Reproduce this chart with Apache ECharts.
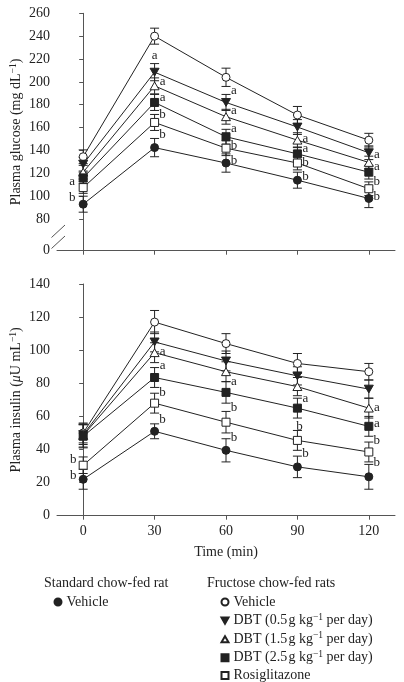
<!DOCTYPE html>
<html><head><meta charset="utf-8">
<script src="https://cdn.jsdelivr.net/npm/echarts@6/dist/echarts.min.js"></script>
<style>html,body{margin:0;padding:0;background:#fff}#c{width:404px;height:682px}</style>
</head><body><div id="c"></div>
<script>
// ---------- data ----------
const times = [0, 30, 60, 90, 120];
const seriesKeys = ['FV', 'D05', 'D15', 'D25', 'ROS', 'SV'];
const legendLabels = {
  SV: 'Vehicle', FV: 'Vehicle',
  D05: 'DBT (0.5{th| }g kg{sup|−1} per day)',
  D15: 'DBT (1.5{th| }g kg{sup|−1} per day)',
  D25: 'DBT (2.5{th| }g kg{sup|−1} per day)',
  ROS: 'Rosiglitazone'
};
const glucoseTicks = [80, 100, 120, 140, 160, 180, 200, 220, 240, 260];
const insulinTicks = [0, 20, 40, 60, 80, 100, 120, 140];

// Plasma glucose (mg/dL)
const glucoseFV  = [134.5, 240, 204, 171, 149];
const glucoseD05 = [128, 208.5, 182, 160.5, 138];
const glucoseD15 = [121, 196.5, 169.5, 149, 129.5];
const glucoseD25 = [116, 182, 152, 137, 121];
const glucoseROS = [107.5, 164.5, 142, 129, 106.5];
const glucoseSV  = [93, 142.5, 129, 114, 98];
// glucose SE
const glucoseErrFV  = [6, 7, 8, 7.5, 6];
const glucoseErrD05 = [6, 7.5, 7, 6.5, 6];
const glucoseErrD15 = [6, 7, 6.5, 6.5, 5.5];
const glucoseErrD25 = [5, 7, 6.5, 6, 6];
const glucoseErrROS = [5, 7, 6.5, 6, 6];
const glucoseErrSV  = [7, 8, 8, 7, 8];
// glucose significance letters
const glucoseLetD05 = ['', 'a', 'a', '', ''];
const glucoseLetD15 = ['', 'a', 'a', 'a', 'a'];
const glucoseLetD25 = ['', 'a', 'a', 'a', 'a'];
const glucoseLetROS = ['a', 'b', 'b', 'b', 'b'];
const glucoseLetSV  = ['b', 'b', 'b', 'b', 'b'];

// Plasma insulin (µU/mL)
const insulinFV  = [50, 117, 104, 92, 87];
const insulinD05 = [49, 105, 93.5, 84.5, 76.5];
const insulinD15 = [48.5, 98.5, 87, 78, 65];
const insulinD25 = [48, 83.5, 74.5, 65, 54];
const insulinROS = [30.5, 68, 56.5, 45.5, 38.5];
const insulinSV  = [22, 51, 39.5, 29.5, 23.5];
// insulin SE
const insulinErrFV  = [6, 7, 6, 6, 5];
const insulinErrD05 = [6, 6, 6, 5.5, 5.5];
const insulinErrD15 = [7, 6, 6, 5.5, 6];
const insulinErrD25 = [7, 6, 6.5, 6, 6];
const insulinErrROS = [5, 6, 6.5, 6, 6];
const insulinErrSV  = [6, 4.5, 7, 6.5, 7.5];
// insulin significance letters
const insulinLetD15 = ['', 'a', '', '', 'a'];
const insulinLetD25 = ['', 'a', 'a', 'a', 'a'];
const insulinLetROS = ['b', 'b', 'b', 'b', 'b'];
const insulinLetSV  = ['b', 'b', 'b', 'b', 'b'];

// ---------- styles ----------
const FONT = "'Liberation Serif', 'DejaVu Serif', serif";
const FS = 14;
const INK = '#222';
const AXIS = '#555';
const downTri = 'path://M0,0L10,0L5,8.7Z';
const upTri = 'path://M5,0L10,8.7L0,8.7Z';
const markerStyle = {
  FV:  { symbol: 'circle', color: '#fff', size: 8 },
  D05: { symbol: downTri, color: INK, size: 9 },
  D15: { symbol: upTri, color: '#fff', size: 9 },
  D25: { symbol: 'rect', color: INK, size: 8 },
  ROS: { symbol: 'rect', color: '#fff', size: 8 },
  SV:  { symbol: 'circle', color: INK, size: 8 }
};
// letter label offsets [dx, dy] per point (style)
const glucoseLetOff = {
  D05: [null, [0, -17], [8, -12], null, null],
  D15: [null, [8, -4], [8, -6], [8, -2], [8, -8]],
  D25: [null, [8, -5], [8, -8], [8, -5], [8, -6]],
  ROS: [[-11, -6], [8, -8], [8, -3], [8, 0], [8, -7]],
  SV:  [[-11, -7], [8, -13], [8, -2], [8, -4], [8, -2]]
};
const insulinLetOff = {
  D15: [null, [8, -1], null, null, [8, -1]],
  D25: [null, [8, -12], [8, -11], [8, -10], [8, -3]],
  ROS: [[-10, -6], [8, -11], [8, -15], [2, -14], [8, -11]],
  SV:  [[-10, -4], [8, -12], [8, -13], [8, -13], [8, -14]]
};

const glucose = { FV: glucoseFV, D05: glucoseD05, D15: glucoseD15, D25: glucoseD25, ROS: glucoseROS, SV: glucoseSV };
const glucoseErr = { FV: glucoseErrFV, D05: glucoseErrD05, D15: glucoseErrD15, D25: glucoseErrD25, ROS: glucoseErrROS, SV: glucoseErrSV };
const glucoseLet = { D05: glucoseLetD05, D15: glucoseLetD15, D25: glucoseLetD25, ROS: glucoseLetROS, SV: glucoseLetSV };
const insulin = { FV: insulinFV, D05: insulinD05, D15: insulinD15, D25: insulinD25, ROS: insulinROS, SV: insulinSV };
const insulinErr = { FV: insulinErrFV, D05: insulinErrD05, D15: insulinErrD15, D25: insulinErrD25, ROS: insulinErrROS, SV: insulinErrSV };
const insulinLet = { D15: insulinLetD15, D25: insulinLetD25, ROS: insulinLetROS, SV: insulinLetSV };

function errSeries(g, key, means, errs) {
  return {
    type: 'custom', name: key + '_err' + g, xAxisIndex: g, yAxisIndex: g, silent: true, z: 2,
    renderItem: (params, api) => {
      const x = api.value(0);
      const pHi = api.coord([x, api.value(2)]);
      const pLo = api.coord([x, api.value(1)]);
      const w = 4.5, st = { stroke: INK, lineWidth: 1 };
      return { type: 'group', children: [
        { type: 'line', shape: { x1: pHi[0], y1: pHi[1], x2: pLo[0], y2: pLo[1] }, style: st },
        { type: 'line', shape: { x1: pHi[0] - w, y1: pHi[1], x2: pHi[0] + w, y2: pHi[1] }, style: st },
        { type: 'line', shape: { x1: pLo[0] - w, y1: pLo[1], x2: pLo[0] + w, y2: pLo[1] }, style: st }
      ]};
    },
    data: times.map((t, i) => [t, means[i] - errs[i], means[i] + errs[i]])
  };
}
function lineSeries(g, key, means, letters, offs) {
  const m = markerStyle[key];
  return {
    type: 'line', name: key, xAxisIndex: g, yAxisIndex: g, z: 3,
    symbol: m.symbol, symbolSize: m.size, symbolKeepAspect: true, showSymbol: true,
    itemStyle: { color: m.color, borderColor: INK, borderWidth: 1 },
    lineStyle: { color: INK, width: 1 },
    emphasis: { disabled: true },
    data: times.map((t, i) => {
      const item = { value: [t, means[i]] };
      if (letters && letters[i]) {
        item.label = { show: true, formatter: letters[i], position: 'inside', offset: offs[i],
          color: INK, fontFamily: FONT, fontSize: 13 };
      }
      return item;
    })
  };
}

const series = [];
seriesKeys.forEach(k => {
  series.push(errSeries(0, k, glucose[k], glucoseErr[k]));
  series.push(errSeries(1, k, insulin[k], insulinErr[k]));
});
seriesKeys.forEach(k => {
  series.push(lineSeries(0, k, glucose[k], glucoseLet[k], glucoseLetOff[k]));
  series.push(lineSeries(1, k, insulin[k], insulinLet[k], insulinLetOff[k]));
});

const supStyle = { fontSize: 9.5, fontFamily: FONT, color: INK, padding: [0, 0, 7, 0] };
const richName = {
  sup: supStyle,
  it: { fontSize: FS, fontFamily: FONT, color: INK, fontStyle: 'italic' }
};
// bottom of the broken glucose axis (shown as "0")
const GLUCOSE_MIN = 52.3;
function xAxis(g) {
  return {
    gridIndex: g, type: 'value', min: -11, max: 131,
    axisLine: { show: true, lineStyle: { color: AXIS, width: 1 } },
    axisTick: { show: true, customValues: times, length: 4, lineStyle: { color: AXIS } },
    axisLabel: { show: g === 1, customValues: times, margin: 9, color: INK, fontFamily: FONT, fontSize: FS },
    splitLine: { show: false },
    name: g === 1 ? 'Time (min)' : '', nameLocation: 'middle', nameGap: 30,
    nameTextStyle: { color: INK, fontFamily: FONT, fontSize: FS }
  };
}
function helperAxis(value, text) {
  return {
    gridIndex: 0, type: 'value', min: GLUCOSE_MIN, max: 260, position: 'left', offset: 0,
    axisLine: { show: false }, axisTick: { show: false }, splitLine: { show: false },
    axisLabel: { customValues: [value], formatter: () => text, showMinLabel: true, showMaxLabel: true,
      margin: 7, color: INK, fontFamily: FONT, fontSize: FS }
  };
}
const option = {
  animation: false,
  backgroundColor: '#fff',
  grid: [
    { left: 57, right: 9, top: 13.3, height: 237.4, outerBoundsMode: 'none', containLabel: false },
    { left: 57, right: 9, top: 284, height: 231.7, outerBoundsMode: 'none', containLabel: false }
  ],
  xAxis: [xAxis(0), xAxis(1)],
  yAxis: [
    {
      gridIndex: 0, type: 'value', min: GLUCOSE_MIN, max: 260, position: 'left', offset: 0,
      axisLine: { show: true, lineStyle: { color: AXIS } },
      axisTick: { show: true, customValues: glucoseTicks, length: 4, lineStyle: { color: AXIS } },
      axisLabel: { customValues: glucoseTicks.slice(1), showMinLabel: true, showMaxLabel: true, hideOverlap: false,
        margin: 7, color: INK, fontFamily: FONT, fontSize: FS },
      splitLine: { show: false },
      name: 'Plasma glucose (mg dL{sup|−1})', nameLocation: 'middle', nameGap: 32, nameMoveOverlap: false,
      nameTextStyle: { color: INK, fontFamily: FONT, fontSize: FS, rich: richName }
    },
    {
      gridIndex: 1, type: 'value', min: 0, max: 140, interval: 20,
      axisLine: { show: true, lineStyle: { color: AXIS } },
      axisTick: { show: true, length: 4, lineStyle: { color: AXIS } },
      axisLabel: { margin: 7, color: INK, fontFamily: FONT, fontSize: FS },
      splitLine: { show: false },
      name: 'Plasma insulin ({it|μ}U mL{sup|−1})', nameLocation: 'middle', nameGap: 32, nameMoveOverlap: false,
      nameTextStyle: { color: INK, fontFamily: FONT, fontSize: FS, rich: richName }
    },
    helperAxis(GLUCOSE_MIN, '0')
  ],
  legend: [
    {
      left: 53.5, top: 594.5, padding: 0, orient: 'vertical', itemWidth: 7, itemHeight: 7, itemGap: 2.6,
      selectedMode: false,
      data: [{ name: 'SV', icon: 'circle' }],
      formatter: n => legendLabels[n],
      textStyle: { color: INK, fontFamily: FONT, fontSize: FS, lineHeight: 15, rich: { sup: supStyle, th: { fontSize: 5 } } }
    },
    {
      left: 220.5, top: 594.5, padding: 0, height: 90, orient: 'vertical', itemWidth: 7, itemHeight: 7, itemGap: 2.6,
      selectedMode: false,
      data: [
        { name: 'FV', icon: 'circle' },
        { name: 'D05', icon: downTri },
        { name: 'D15', icon: upTri },
        { name: 'D25', icon: 'rect' },
        { name: 'ROS', icon: 'rect' }
      ],
      formatter: n => legendLabels[n],
      textStyle: { color: INK, fontFamily: FONT, fontSize: FS, lineHeight: 15, rich: { sup: supStyle, th: { fontSize: 5 } } }
    }
  ],
  graphic: [
    { type: 'text', left: 44, top: 576, style: { text: 'Standard chow-fed rat', fill: INK, font: FS + 'px ' + FONT } },
    { type: 'text', left: 207, top: 576, style: { text: 'Fructose chow-fed rats', fill: INK, font: FS + 'px ' + FONT } },
    { type: 'rect', shape: { x: 54, y: 231, width: 6, height: 11 }, style: { fill: '#fff' }, z: 100 },
    { type: 'line', shape: { x1: 51.5, y1: 237.5, x2: 65, y2: 225 }, style: { stroke: AXIS, lineWidth: 1 }, z: 101 },
    { type: 'line', shape: { x1: 51.5, y1: 248.5, x2: 65, y2: 236 }, style: { stroke: AXIS, lineWidth: 1 }, z: 101 }
  ],
  series: series
};
const chart = echarts.init(document.getElementById('c'), null, { renderer: 'canvas' });
chart.setOption(option);
// lowest glucose tick label, placed through the axis scale
const p80 = chart.convertToPixel({ yAxisIndex: 0 }, glucoseTicks[0]);
chart.setOption({ graphic: option.graphic.concat([
  { type: 'text', x: 50, y: p80, z: 102,
    style: { text: String(glucoseTicks[0]), fill: INK, font: FS + 'px ' + FONT, align: 'right', verticalAlign: 'middle' } }
]) });
</script>
</body></html>
